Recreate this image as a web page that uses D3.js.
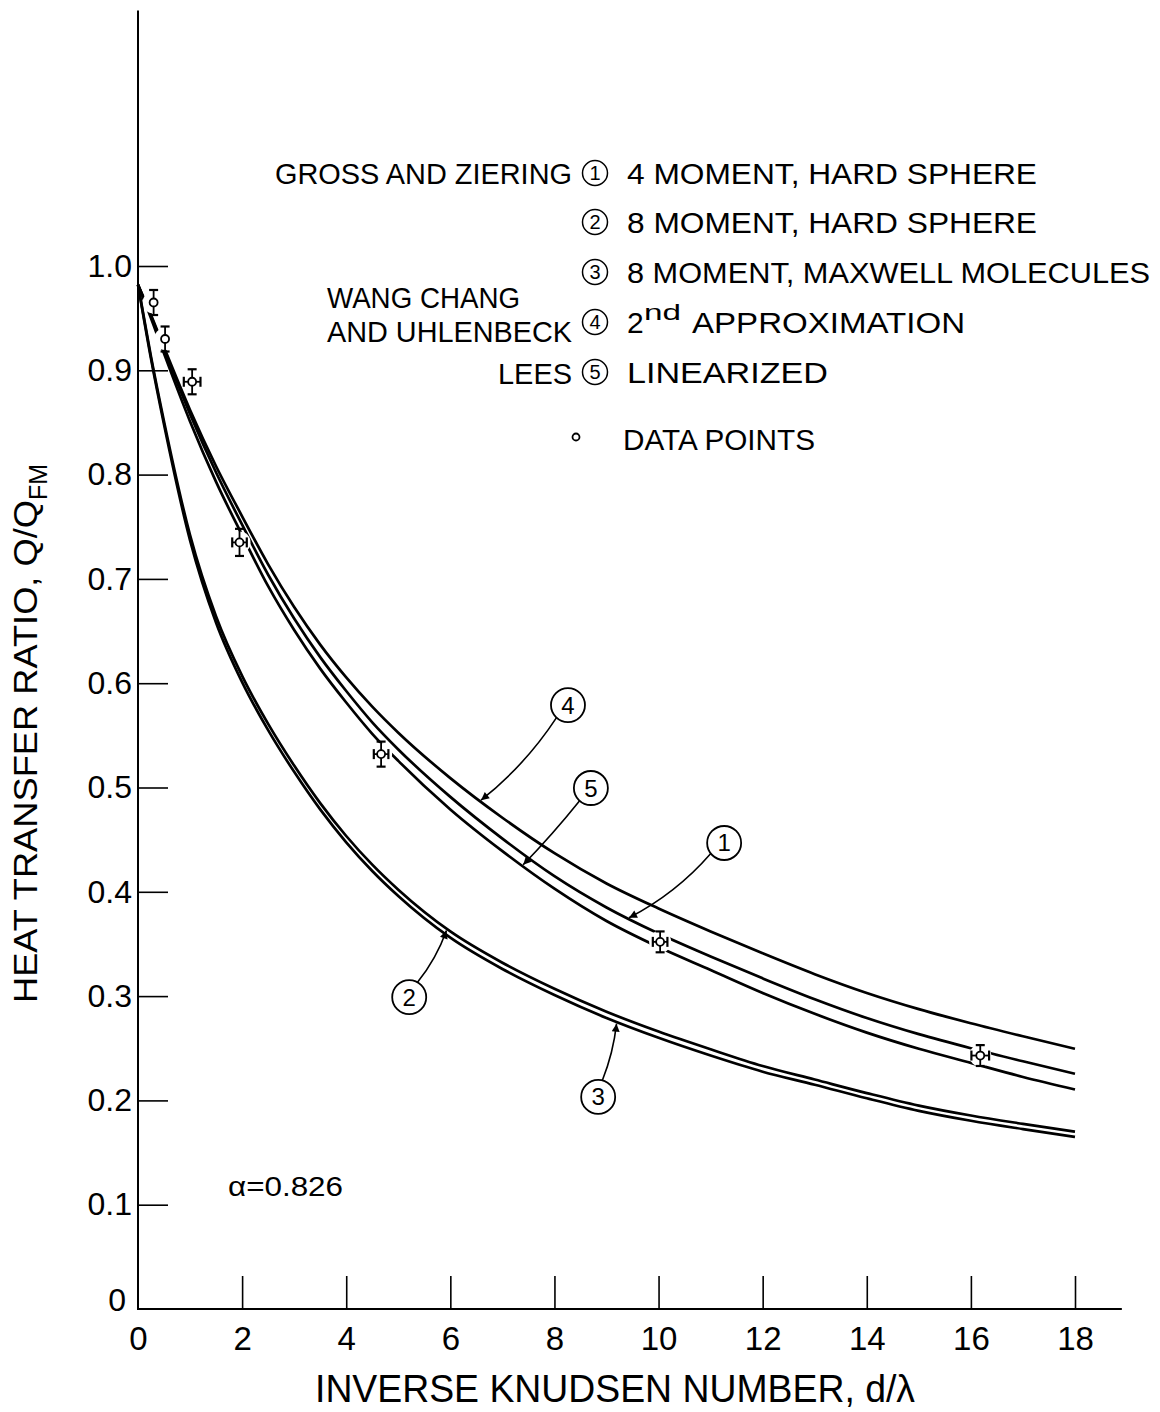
<!DOCTYPE html>
<html>
<head>
<meta charset="utf-8">
<script src="https://cdn.jsdelivr.net/npm/d3@7"></script>
<style>
  body { margin: 0; background: #fff; }
  svg { display: block; font-family: "Liberation Sans", Arial, sans-serif; }
</style>
</head>
<body>
<svg id="chart" width="1160" height="1412"></svg>
<script>
// Inverse Knudsen number grid shared by all theory curves
const xGrid = [0, 0.25, 0.5, 1, 1.5, 2, 2.5, 3, 3.5, 4, 4.5, 5, 6, 7, 8, 9, 10, 11, 12, 13, 14, 15, 16, 17, 18];

// (1) Gross and Ziering, 4 moment, hard sphere
const gzFourMoment = [0.982, 0.952, 0.920, 0.858, 0.802, 0.752, 0.704, 0.662, 0.625, 0.5925, 0.5625, 0.5365, 0.491, 0.451, 0.415, 0.385, 0.360, 0.338, 0.317, 0.297, 0.279, 0.2635, 0.250, 0.2375, 0.2255];
// (2) Gross and Ziering, 8 moment, hard sphere
const gzEightHard = [0.982, 0.913, 0.851, 0.742, 0.664, 0.607, 0.561, 0.521, 0.485, 0.4535, 0.426, 0.402, 0.362, 0.332, 0.307, 0.285, 0.266, 0.249, 0.233, 0.220, 0.207, 0.195, 0.1855, 0.1775, 0.170];
// (3) Gross and Ziering, 8 moment, Maxwell molecules
const gzEightMaxwell = [0.982, 0.911, 0.848, 0.737, 0.658, 0.601, 0.555, 0.515, 0.479, 0.4475, 0.420, 0.396, 0.356, 0.326, 0.301, 0.279, 0.260, 0.243, 0.2275, 0.215, 0.202, 0.190, 0.1805, 0.1725, 0.165];
// (4) Wang Chang and Uhlenbeck, 2nd approximation
const wcuSecond = [0.982, 0.953, 0.922, 0.862, 0.808, 0.760, 0.714, 0.673, 0.637, 0.6055, 0.5775, 0.5525, 0.509, 0.471, 0.437, 0.408, 0.384, 0.362, 0.341, 0.321, 0.303, 0.2875, 0.274, 0.2615, 0.2495];
// (5) Lees, linearized
const leesLinear = [0.982, 0.950, 0.916, 0.851, 0.793, 0.742, 0.693, 0.651, 0.614, 0.5815, 0.5515, 0.5255, 0.479, 0.439, 0.403, 0.372, 0.347, 0.325, 0.303, 0.283, 0.265, 0.2495, 0.236, 0.2225, 0.2105];

// Measured data points with error bars (alpha = 0.826)
const dataX = [0.30, 0.52, 1.04, 1.95, 4.67, 10.03, 16.18];
const dataY = [0.965, 0.930, 0.889, 0.735, 0.532, 0.352, 0.243];
const errY  = [0.012, 0.012, 0.012, 0.013, 0.012, 0.010, 0.010];
const errX  = [0, 0, 0.16, 0.14, 0.14, 0.14, 0.17];

// Axis ticks
const xTicks = [0, 2, 4, 6, 8, 10, 12, 14, 16, 18];
const yTicks = [0, 0.1, 0.2, 0.3, 0.4, 0.5, 0.6, 0.7, 0.8, 0.9, 1.0];

// Legend entries
const legendNums = ["1", "2", "3", "4", "5"];
const legendTexts = ["4 MOMENT, HARD SPHERE", "8 MOMENT, HARD SPHERE", "8 MOMENT, MAXWELL MOLECULES", "APPROXIMATION", "LINEARIZED"];

const series = [
  { num: "1", values: gzFourMoment },
  { num: "2", values: gzEightHard },
  { num: "3", values: gzEightMaxwell },
  { num: "4", values: wcuSecond },
  { num: "5", values: leesLinear }
];

const svg = d3.select("#chart");
const x = d3.scaleLinear().domain([0, 18]).range([138, 1075]);
const y = d3.scaleLinear().domain([0, 1]).range([1309, 266]);

// ---- axes ----
const gx = svg.append("g").attr("transform", `translate(0,${y(0)})`)
  .call(d3.axisBottom(x).tickValues(xTicks).tickSizeInner(-33).tickSizeOuter(0).tickPadding(18).tickFormat(d3.format("d")));
gx.select(".domain").remove();
gx.selectAll(".tick line").attr("stroke", "#000").attr("stroke-width", 1.6).filter(d => d === 0).remove();
gx.selectAll(".tick text").attr("font-size", 33).attr("fill", "#000").attr("font-family", "Liberation Sans, Arial, sans-serif");

const gy = svg.append("g").attr("transform", `translate(${x(0)},0)`)
  .call(d3.axisLeft(y).tickValues(yTicks).tickSizeInner(-30).tickSizeOuter(0).tickPadding(6)
    .tickFormat(d => d === 0 ? "0" : d3.format(".1f")(d)));
gy.select(".domain").remove();
gy.selectAll(".tick line").attr("stroke", "#000").attr("stroke-width", 1.6).filter(d => d === 0).remove();
gy.selectAll(".tick text").attr("font-size", 32).attr("fill", "#000").attr("font-family", "Liberation Sans, Arial, sans-serif");
gy.selectAll(".tick text").filter(d => d === 0).attr("dy", "0.05em").attr("x", -12);

svg.append("line").attr("x1", x(0)).attr("x2", x(0)).attr("y1", y(0) + 1).attr("y2", y(1.245))
  .attr("stroke", "#000").attr("stroke-width", 2);
svg.append("line").attr("x1", x(0) - 1).attr("x2", x(18.9)).attr("y1", y(0)).attr("y2", y(0))
  .attr("stroke", "#000").attr("stroke-width", 2.2);

// ---- theory curves ----
const line = d3.line().x(d => x(d[0])).y(d => y(d[1])).curve(d3.curveMonotoneX);
const pts = s => xGrid.map((xv, i) => [xv, s.values[i]]);

// the top three curves are interrupted around the data symbols
const defs = svg.append("defs");
const mask = defs.append("mask").attr("id", "symbolGaps").attr("maskUnits", "userSpaceOnUse")
  .attr("x", 0).attr("y", 0).attr("width", 1160).attr("height", 1412);
mask.append("rect").attr("width", 1160).attr("height", 1412).attr("fill", "#fff");
mask.selectAll("circle").data(dataX).join("circle")
  .attr("cx", (d, i) => x(d)).attr("cy", (d, i) => y(dataY[i])).attr("r", 11).attr("fill", "#000");

const paths = {};
const lower = svg.append("g");
const upper = svg.append("g").attr("mask", "url(#symbolGaps)");
series.forEach(s => {
  const g = (s.num === "2" || s.num === "3") ? lower : upper;
  paths[s.num] = g.append("path").datum(pts(s)).attr("d", line)
    .attr("fill", "none").attr("stroke", "#000").attr("stroke-width", 2.7)
    .attr("stroke-linejoin", "round").attr("stroke-linecap", "butt");
});

// ---- data points with error bars ----
const gp = svg.append("g").attr("stroke", "#000").attr("stroke-width", 1.8).attr("fill", "none");
dataX.forEach((xv, i) => {
  const cx = x(xv), cy = y(dataY[i]);
  const y1 = y(dataY[i] + errY[i]), y2 = y(dataY[i] - errY[i]);
  gp.append("line").attr("x1", cx).attr("x2", cx).attr("y1", y1).attr("y2", y2);
  gp.append("line").attr("x1", cx - 4.5).attr("x2", cx + 4.5).attr("y1", y1).attr("y2", y1).attr("stroke-width", 2.2);
  gp.append("line").attr("x1", cx - 4.5).attr("x2", cx + 4.5).attr("y1", y2).attr("y2", y2).attr("stroke-width", 2.2);
  if (errX[i] > 0) {
    const xa = x(xv - errX[i]), xb = x(xv + errX[i]);
    gp.append("line").attr("x1", xa).attr("x2", xb).attr("y1", cy).attr("y2", cy);
    gp.append("line").attr("x1", xa).attr("x2", xa).attr("y1", cy - 5).attr("y2", cy + 5).attr("stroke-width", 2.2);
    gp.append("line").attr("x1", xb).attr("x2", xb).attr("y1", cy - 5).attr("y2", cy + 5).attr("stroke-width", 2.2);
  }
  gp.append("circle").attr("cx", cx).attr("cy", cy).attr("r", 4).attr("fill", "#fff");
});

// ---- callouts naming each curve ----
defs.append("marker").attr("id", "arrowHead").attr("viewBox", "0 0 10 10")
  .attr("refX", 10).attr("refY", 5).attr("markerWidth", 15).attr("markerHeight", 8)
  .attr("markerUnits", "userSpaceOnUse").attr("orient", "auto")
  .append("path").attr("d", "M0,0 L10,5 L0,10 z").attr("fill", "#000");

// point on a drawn curve at a given data x
function pointOnPath(node, px) {
  let lo = 0, hi = node.getTotalLength();
  for (let k = 0; k < 40; k++) {
    const mid = (lo + hi) / 2;
    if (node.getPointAtLength(mid).x < px) lo = mid; else hi = mid;
  }
  return node.getPointAtLength((lo + hi) / 2);
}

const callouts = [
  { num: "4", at: [8.26, 0.579], tipX: 6.57, bend: 9 },
  { num: "5", at: [8.70, 0.4995], tipX: 7.38, bend: 2 },
  { num: "1", at: [11.26, 0.4468], tipX: 9.41, bend: 10 },
  { num: "2", at: [5.21, 0.299], tipX: 5.94, bend: -5 },
  { num: "3", at: [8.84, 0.2033], tipX: 9.20, bend: -4 }
];
const gc = svg.append("g");
callouts.forEach(c => {
  const cx = x(c.at[0]), cy = y(c.at[1]), r = 17;
  const p = pointOnPath(paths[c.num].node(), x(c.tipX));
  let dx = cx - p.x, dy = cy - p.y;
  const len = Math.hypot(dx, dy); dx /= len; dy /= len;
  const tx = p.x + dx * 1.5, ty = p.y + dy * 1.5;
  const sx = cx - dx * r, sy = cy - dy * r;
  const mx = (sx + tx) / 2 - dy * c.bend, my = (sy + ty) / 2 + dx * c.bend;
  gc.append("path").attr("d", `M${sx},${sy} Q${mx},${my} ${tx},${ty}`)
    .attr("fill", "none").attr("stroke", "#000").attr("stroke-width", 1.6)
    .attr("marker-end", "url(#arrowHead)");
  gc.append("circle").attr("cx", cx).attr("cy", cy).attr("r", r)
    .attr("fill", "#fff").attr("stroke", "#000").attr("stroke-width", 1.8);
  gc.append("text").attr("x", cx).attr("y", cy + 8.5).attr("text-anchor", "middle")
    .attr("font-size", 24).text(c.num);
});

// ---- legend ----
const gl = svg.append("g").attr("fill", "#000");
const rowY = [173, 222, 272, 322, 372];
const rowLen = [410, 410, 523, 273, 201];
legendNums.forEach((n, i) => {
  gl.append("circle").attr("cx", 595).attr("cy", rowY[i]).attr("r", 12.5)
    .attr("fill", "none").attr("stroke", "#000").attr("stroke-width", 1.5);
  gl.append("text").attr("x", 595).attr("y", rowY[i] + 7).attr("text-anchor", "middle")
    .attr("font-size", 20).text(n);
  const tx = i === 3 ? 692 : 627;
  gl.append("text").attr("x", tx).attr("y", rowY[i] + 11).attr("font-size", 30)
    .attr("textLength", rowLen[i]).attr("lengthAdjust", "spacingAndGlyphs").text(legendTexts[i]);
});
// "2nd" with raised suffix
gl.append("text").attr("x", 627).attr("y", rowY[3] + 11).attr("font-size", 30).text("2");
gl.append("text").attr("x", 644).attr("y", rowY[3] - 2).attr("font-size", 22)
  .attr("textLength", 37).attr("lengthAdjust", "spacingAndGlyphs").text("nd");

const groupLabels = [
  { t: "GROSS AND ZIERING", x: 572, y: 184, len: 297 },
  { t: "WANG CHANG", x: 520, y: 308, len: 193 },
  { t: "AND UHLENBECK", x: 572, y: 342, len: 245 },
  { t: "LEES", x: 572, y: 384, len: 74 }
];
groupLabels.forEach(g => {
  gl.append("text").attr("x", g.x - g.len).attr("y", g.y).attr("font-size", 30)
    .attr("textLength", g.len).attr("lengthAdjust", "spacingAndGlyphs").text(g.t);
});
gl.append("circle").attr("cx", 576).attr("cy", 437).attr("r", 3.5)
  .attr("fill", "none").attr("stroke", "#000").attr("stroke-width", 1.8);
gl.append("text").attr("x", 623).attr("y", 450).attr("font-size", 30)
  .attr("textLength", 192).attr("lengthAdjust", "spacingAndGlyphs").text("DATA POINTS");

// accommodation coefficient
svg.append("text").attr("x", 228).attr("y", 1196).attr("font-size", 28)
  .attr("textLength", 115).attr("lengthAdjust", "spacingAndGlyphs").text("α=0.826");

// ---- axis titles ----
svg.append("text").attr("x", 315).attr("y", 1402).attr("font-size", 38)
  .attr("textLength", 600).attr("lengthAdjust", "spacingAndGlyphs").text("INVERSE KNUDSEN NUMBER, d/λ");

const yt = svg.append("text").attr("transform", "translate(37,1003) rotate(-90)").attr("font-size", 33);
yt.append("tspan").attr("textLength", 503).attr("lengthAdjust", "spacingAndGlyphs").text("HEAT TRANSFER RATIO, Q/Q");
yt.append("tspan").attr("dy", 10).attr("font-size", 25).text("FM");
</script>
</body>
</html>
